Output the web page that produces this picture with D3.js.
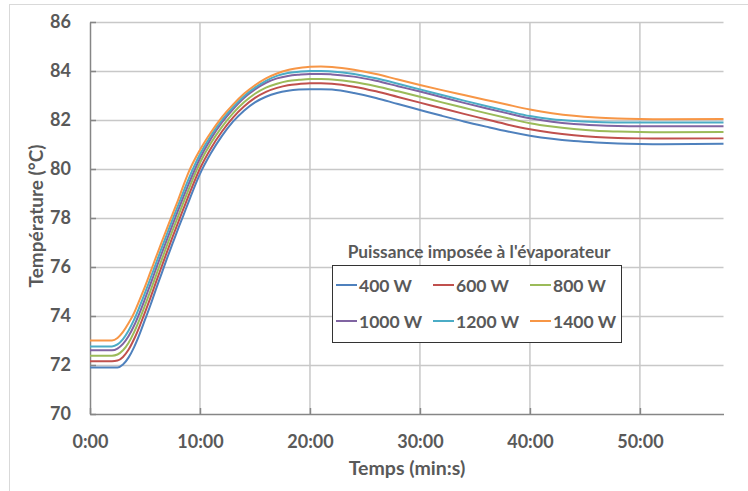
<!DOCTYPE html>
<html><head><meta charset="utf-8">
<script src="https://cdn.jsdelivr.net/npm/d3@7/dist/d3.min.js"></script>
<style>body{margin:0;background:#fff}svg{display:block}text{font-family:Lato,"Open Sans",sans-serif;font-weight:700;fill:#595959}</style>
</head><body><svg id="c" width="748" height="491"></svg>
<script>
// time in minutes
const times = [0, 2, 2.5, 3, 3.5, 4, 4.5, 5, 5.5, 6, 6.5, 7, 7.5, 8, 8.5, 9, 10, 11, 12, 13, 14, 15, 16, 17, 18, 19, 20, 21, 22, 24, 26, 28, 30, 32, 34, 36, 38, 40, 42, 44, 46, 48, 50, 52, 57.6];
const s400  = [71.9, 71.9, 71.9, 72.02, 72.3, 72.72, 73.25, 73.85, 74.45, 75.1, 75.72, 76.35, 76.95, 77.55, 78.12, 78.7, 79.8, 80.65, 81.35, 81.93, 82.38, 82.72, 82.95, 83.1, 83.19, 83.24, 83.26, 83.26, 83.24, 83.1, 82.9, 82.65, 82.41, 82.17, 81.94, 81.73, 81.53, 81.36, 81.23, 81.14, 81.08, 81.04, 81.02, 81.01, 81.03];
const s600  = [72.15, 72.15, 72.18, 72.33, 72.62, 73.05, 73.57, 74.15, 74.75, 75.38, 76.0, 76.62, 77.22, 77.8, 78.38, 78.95, 80.02, 80.85, 81.53, 82.1, 82.55, 82.9, 83.15, 83.31, 83.42, 83.47, 83.5, 83.5, 83.48, 83.36, 83.17, 82.94, 82.71, 82.48, 82.25, 82.03, 81.81, 81.62, 81.48, 81.38, 81.31, 81.27, 81.25, 81.24, 81.25];
const s800  = [72.38, 72.38, 72.43, 72.6, 72.9, 73.33, 73.85, 74.43, 75.03, 75.65, 76.27, 76.88, 77.48, 78.06, 78.64, 79.2, 80.25, 81.06, 81.72, 82.27, 82.72, 83.07, 83.32, 83.48, 83.59, 83.64, 83.67, 83.67, 83.65, 83.55, 83.38, 83.17, 82.95, 82.72, 82.5, 82.28, 82.07, 81.87, 81.73, 81.63, 81.56, 81.53, 81.51, 81.5, 81.51];
const s1000 = [72.6, 72.6, 72.67, 72.86, 73.17, 73.6, 74.12, 74.7, 75.3, 75.92, 76.53, 77.13, 77.72, 78.3, 78.87, 79.42, 80.44, 81.24, 81.9, 82.44, 82.9, 83.25, 83.52, 83.7, 83.8, 83.85, 83.88, 83.88, 83.86, 83.77, 83.6, 83.38, 83.16, 82.93, 82.7, 82.48, 82.27, 82.07, 81.93, 81.84, 81.79, 81.76, 81.75, 81.75, 81.75];
const s1200 = [72.76, 72.76, 72.84, 73.06, 73.4, 73.84, 74.37, 74.94, 75.54, 76.15, 76.76, 77.35, 77.93, 78.5, 79.08, 79.63, 80.6, 81.37, 82.0, 82.52, 82.97, 83.32, 83.6, 83.8, 83.92, 83.97, 84.0, 84.0, 83.98, 83.88, 83.7, 83.48, 83.25, 83.02, 82.79, 82.57, 82.36, 82.16, 82.03, 81.96, 81.92, 81.9, 81.9, 81.9, 81.9];
const s1400 = [73.0, 73.0, 73.1, 73.35, 73.7, 74.12, 74.65, 75.2, 75.8, 76.4, 77.0, 77.58, 78.15, 78.72, 79.33, 79.9, 80.78, 81.5, 82.12, 82.63, 83.07, 83.42, 83.7, 83.9, 84.04, 84.12, 84.17, 84.18, 84.16, 84.05, 83.88, 83.65, 83.43, 83.22, 83.02, 82.82, 82.62, 82.43, 82.28, 82.17, 82.1, 82.06, 82.04, 82.03, 82.04];
const seriesNames = ["400 W", "600 W", "800 W", "1000 W", "1200 W", "1400 W"];
const seriesColors = ["#4F81BD", "#C0504D", "#9BBB59", "#8064A2", "#4BACC6", "#F79646"];
const seriesValues = [s400, s600, s800, s1000, s1200, s1400];
const yTicks = [70, 72, 74, 76, 78, 80, 82, 84, 86];
const xTicks = [0, 10, 20, 30, 40, 50];
const legendTitle = "Puissance imposée à l'évaporateur";
const xTitle = "Temps (min:s)";
const yTitle = "Température (°C)";

const svg = d3.select("#c");
svg.append("rect").attr("x", 9.5).attr("y", 4.5).attr("width", 760).attr("height", 520)
  .attr("fill", "none").attr("stroke", "#d9d9d9");

const L = 90, R = 723.5, T = 22, B = 414;
const x = d3.scaleLinear().domain([0, 57.6]).range([L, R]);
const y = d3.scaleLinear().domain([70, 86]).range([B, T]);

// gridlines
svg.append("g").selectAll("line").data(yTicks.slice(1)).join("line")
  .attr("x1", L).attr("x2", R).attr("y1", d => y(d) + 0.5).attr("y2", d => y(d) + 0.5)
  .attr("stroke", "#c8c8c8").attr("stroke-width", 1.5);
svg.append("g").selectAll("line").data(xTicks.slice(1)).join("line")
  .attr("x1", d => x(d)).attr("x2", d => x(d)).attr("y1", T).attr("y2", B)
  .attr("stroke", "#c8c8c8").attr("stroke-width", 1.5);

const fmt = d => Math.floor(d) + ":" + String(Math.round((d % 1) * 60)).padStart(2, "0");

// axes
const yAxis = svg.append("g").attr("transform", `translate(${L},0)`)
  .call(d3.axisLeft(y).tickValues(yTicks).tickSizeInner(-6).tickSizeOuter(0).tickPadding(19));
const xAxis = svg.append("g").attr("transform", `translate(0,${B})`)
  .call(d3.axisBottom(x).tickValues(xTicks).tickFormat(fmt).tickSizeInner(-6).tickSizeOuter(0).tickPadding(21));
[yAxis, xAxis].forEach(a => {
  a.select(".domain").attr("stroke", "#868686").attr("stroke-width", 1.5);
  a.selectAll(".tick line").attr("stroke", "#868686").attr("stroke-width", 1.5);
  a.selectAll("text").attr("font-size", 18).attr("fill", "#595959")
    .style("font-family", "Lato, sans-serif").style("font-weight", 700);
});

// lines
const line = d3.line().x((d, i) => x(times[i])).y(d => y(d)).curve(d3.curveMonotoneX);
svg.append("g").selectAll("path").data(seriesValues).join("path")
  .attr("d", d => line(d)).attr("fill", "none")
  .attr("stroke", (d, i) => seriesColors[i]).attr("stroke-width", 2);

// axis titles
svg.append("text").attr("x", 407).attr("y", 475).attr("text-anchor", "middle").attr("font-size", 19.5).text(xTitle);
svg.append("text").attr("transform", "translate(43,216) rotate(-90)").attr("text-anchor", "middle").attr("font-size", 19).text(yTitle);

// legend
svg.append("text").attr("x", 479).attr("y", 258).attr("text-anchor", "middle").attr("font-size", 17.3).text(legendTitle);
svg.append("rect").attr("x", 332.5).attr("y", 265.5).attr("width", 289).attr("height", 77)
  .attr("fill", "#fff").attr("stroke", "#333").attr("stroke-width", 1);
const colX = [336, 433, 530], rowY = [285, 321];
const lg = svg.append("g").selectAll("g").data(seriesNames).join("g")
  .attr("transform", (d, i) => `translate(${colX[i % 3]},${rowY[Math.floor(i / 3)]})`);
lg.append("line").attr("x1", 0).attr("x2", 21).attr("y1", 0).attr("y2", 0)
  .attr("stroke", (d, i) => seriesColors[i]).attr("stroke-width", 2);
lg.append("text").attr("x", 23).attr("y", 7).attr("font-size", 17.5).text(d => d);
</script></body></html>
